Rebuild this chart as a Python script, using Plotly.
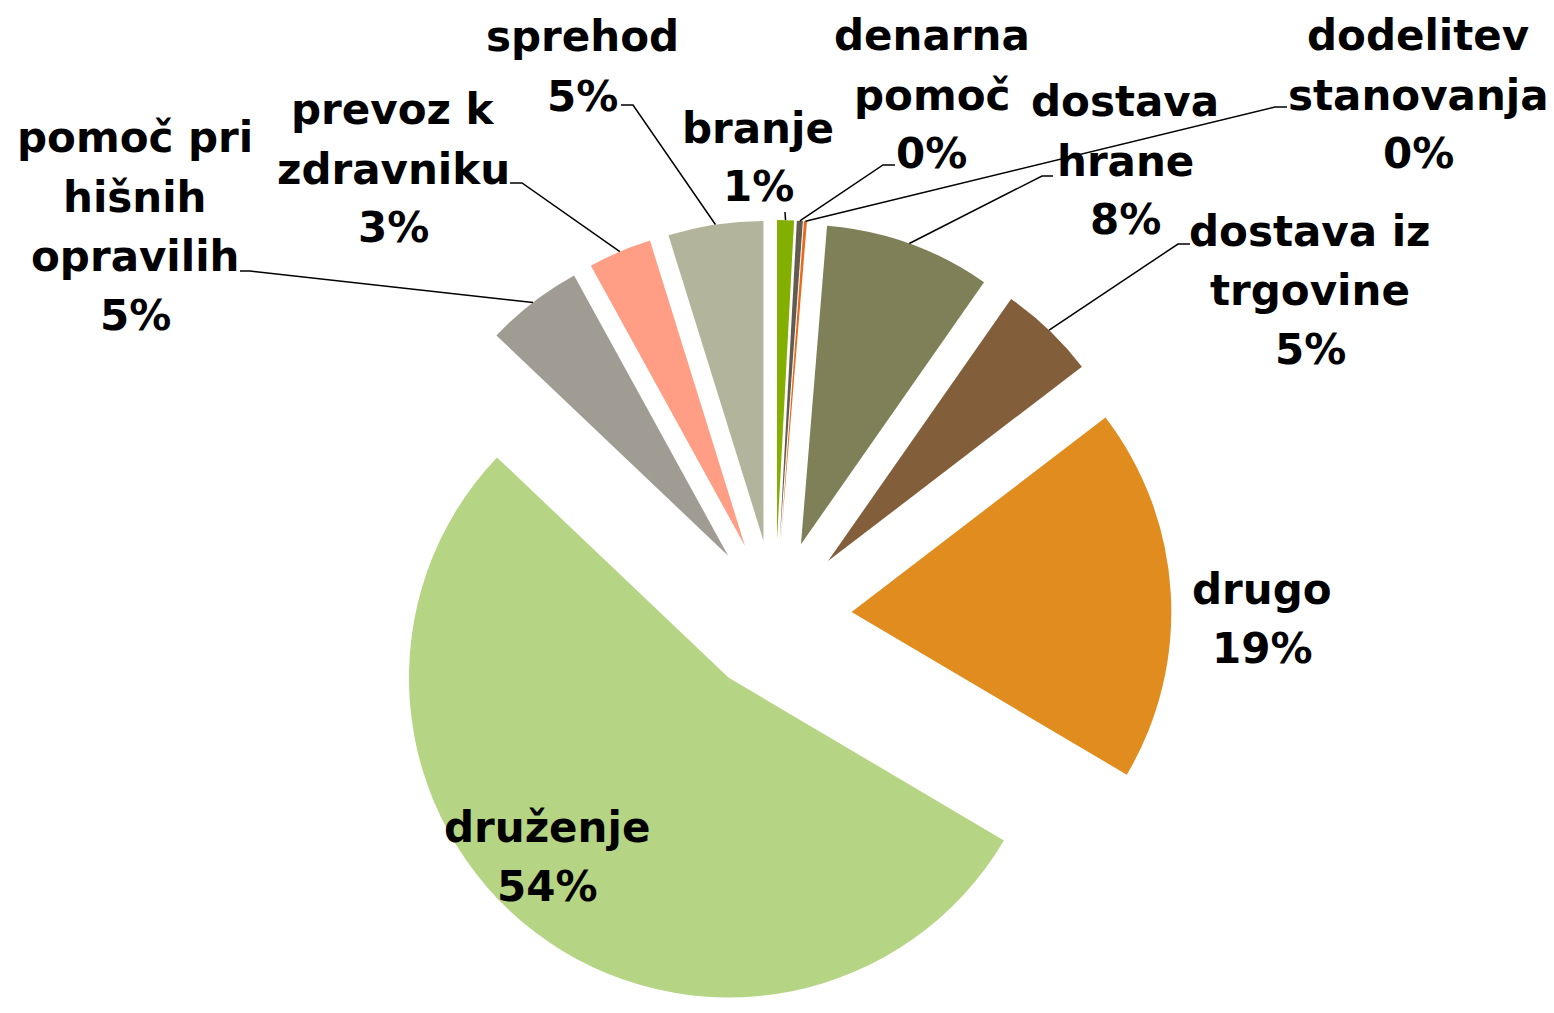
import math
import plotly.graph_objects as go

# ---- data ----
categories = ["branje", "denarna pomoč", "dodelitev stanovanja", "dostava hrane",
              "dostava iz trgovine", "drugo", "druženje", "pomoč pri hišnih opravilih",
              "prevoz k zdravniku", "sprehod"]
values = [0.85, 0.3, 0.15, 8.4, 4.9, 18.9, 53.6, 4.9, 3.2, 4.8]
label_text = ["branje", "denarna<br>pomoč", "dodelitev<br>stanovanja", "dostava<br>hrane",
              "dostava iz<br>trgovine", "drugo", "druženje", "pomoč pri<br>hišnih<br>opravilih",
              "prevoz k<br>zdravniku", "sprehod"]

# ---- styles / layout ----
colors = ["#82AF00", "#625B50", "#E96A18", "#7F7F58", "#835E3B",
          "#E08C1E", "#B5D585", "#A19C93", "#FF9E85", "#B2B49B"]
W, H = 1554, 1013
PULL = 0.24
DOM_X = [0.0, 0.9974]
DOM_Y = [0.0, 0.7828]
FONT = "DejaVu Sans"
FSIZE = 42
LINE_GAP = 59

# label: centre x and first-line centre y (pixels)
label_pos = [(758, 128), (932, 36), (1418, 36), (1125, 102), (1310, 231),
             (1262, 589), (547, 827), (135, 138), (393, 110), (582, 37)]
leader_start = [(785, 212), (895, 165), (1287, 107), (1053, 176), (1190, 244),
                None, None, (240, 271), (510, 183), (621, 105)]
leader_elbow = [None, (883, 165), (1275, 107), (1042, 176), (1178, 244),
                None, None, (250, 271), (522, 183), (633, 105)]

fig = go.Figure(go.Pie(
    labels=categories, values=values, sort=False, direction="clockwise", rotation=0,
    pull=PULL, textinfo="none", hoverinfo="label+percent",
    marker=dict(colors=colors, line=dict(width=0)),
    domain=dict(x=DOM_X, y=DOM_Y), showlegend=False,
))

# pie geometry as plotly computes it (margins 0)
box_w = W * (DOM_X[1] - DOM_X[0])
box_h = H * (DOM_Y[1] - DOM_Y[0])
r = min(box_w, box_h) / (2 + 2 * PULL)
cx = W * (DOM_X[0] + DOM_X[1]) / 2
cy = H * (1 - DOM_Y[0]) - box_h / 2

def px2paper(p):
    return p[0] / W, 1 - p[1] / H

total = sum(values)
cum = 0.0
annotations = []
shapes = []
for i, v in enumerate(values):
    mid = math.radians(360.0 * (cum + v / 2) / total)
    cum += v
    pct = f"{v / total:.0%}"
    lines = label_text[i].split("<br>") + [pct]
    x0, y0 = label_pos[i]
    for k, ln in enumerate(lines):
        lx, ly = px2paper((x0, y0 + k * LINE_GAP))
        annotations.append(dict(x=lx, y=ly, xref="paper", yref="paper", text=f"<b>{ln}</b>",
                                showarrow=False, xanchor="center", yanchor="middle",
                                align="center",
                                font=dict(family=FONT, size=FSIZE, color="black")))
    if leader_start[i] is not None:
        ax = cx + (1 + PULL) * r * math.sin(mid)
        ay = cy - (1 + PULL) * r * math.cos(mid)
        pts = [leader_start[i]]
        if leader_elbow[i] is not None:
            pts.append(leader_elbow[i])
        pts.append((ax, ay))
        pp = [px2paper(p) for p in pts]
        path = "M " + " L ".join(f"{x:.5f},{y:.5f}" for x, y in pp)
        shapes.append(dict(type="path", path=path, xref="paper", yref="paper",
                           line=dict(color="black", width=1.5)))

fig.update_layout(width=W, height=H, margin=dict(l=0, r=0, t=0, b=0),
                  paper_bgcolor="white", plot_bgcolor="white",
                  annotations=annotations, shapes=shapes, showlegend=False)

fig.write_html("out.html", config={"displayModeBar": False},
               post_script="document.body.style.margin='0';")
